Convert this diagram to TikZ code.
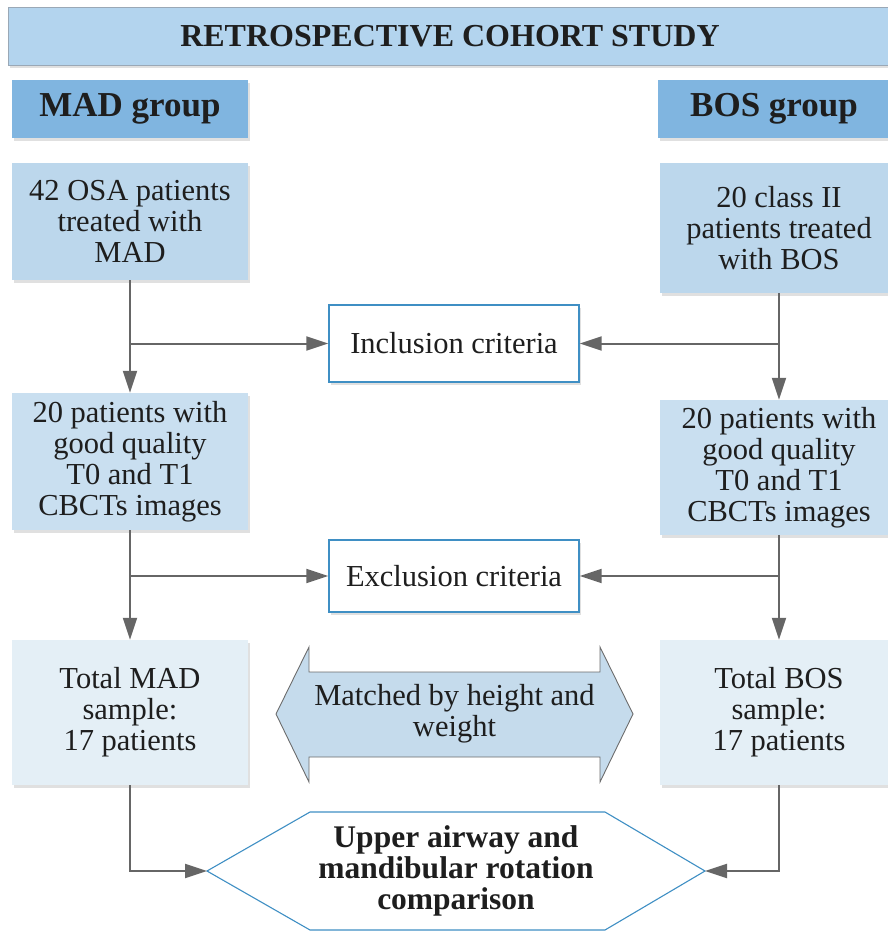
\documentclass[tikz,border=0pt]{standalone}
\usepackage{fontspec}
\setmainfont{Liberation Serif}
\usetikzlibrary{arrows.meta,shadows}
\definecolor{titlebl}{HTML}{B3D4EE}
\definecolor{groupbl}{HTML}{80B5E0}
\definecolor{boxonebl}{HTML}{BCD7EC}
\definecolor{boxtwobl}{HTML}{C9DFF0}
\definecolor{boxthreebl}{HTML}{E4EFF6}
\definecolor{matchbl}{HTML}{C5DBEC}
\definecolor{edgebl}{HTML}{3F8FC4}
\definecolor{arrgray}{HTML}{666666}
\definecolor{titleedge}{HTML}{9AA8B6}
\definecolor{inktext}{HTML}{1E1E1E}
\begin{document}
\begin{tikzpicture}[x=1pt,y=-1pt,
  softshadow/.style={drop shadow={opacity=0.12,shadow xshift=1.5pt,shadow yshift=-3pt,fill=black}},
  panel/.style={rectangle, inner sep=0pt, align=center, text=inktext,
    font=\fontsize{30.5}{31}\selectfont},
  titlebox/.style={panel, fill=titlebl, draw=titleedge, line width=0.8pt, softshadow,
    font=\fontsize{32}{33}\selectfont\bfseries},
  groupbox/.style={panel, fill=groupbl, softshadow, font=\fontsize{35}{37}\selectfont\bfseries},
  boxone/.style={panel, fill=boxonebl, softshadow},
  boxtwo/.style={panel, fill=boxtwobl, softshadow},
  boxthree/.style={panel, fill=boxthreebl, softshadow},
  critbox/.style={panel, fill=white, draw=edgebl, line width=1.3pt, softshadow,
    minimum width=250pt},
  arr/.style={draw=arrgray, line width=2pt, -{Triangle[length=22pt,width=14pt]}},
  matchshape/.style={fill=matchbl, draw=gray!85!black, line width=0.9pt},
  hexshape/.style={fill=white, draw=edgebl, line width=1.1pt},
]
\useasboundingbox (0,0) rectangle (888,932);
\clip (0,0) rectangle (888,932);

% header
\node[titlebox, minimum width=884pt, minimum height=58pt] (title) at (450,36) {RETROSPECTIVE COHORT STUDY};
\node[groupbox, minimum width=236pt, minimum height=58pt] (madg) at (130,109) {MAD group};
\node[groupbox, minimum width=232pt, minimum height=58pt] (bosg) at (774,109) {BOS group};

% left column
\node[boxone, minimum width=236pt, minimum height=117pt] (mad1) at (130,221.5) {42 OSA patients\\treated with\\MAD};
\node[boxtwo, minimum width=236pt, minimum height=137pt] (mad2) at (130,461.5) {20 patients with\\good quality\\T0 and T1\\CBCTs images};
\node[boxthree, minimum width=236pt, minimum height=145pt] (mad3) at (130,712.5) {Total MAD\\sample:\\17 patients};

% right column
\node[boxone, minimum width=238pt, minimum height=130pt] (bos1) at (779,228) {20 class II\\patients treated\\with BOS};
\node[boxtwo, minimum width=238pt, minimum height=135pt] (bos2) at (779,467.5) {20 patients with\\good quality\\T0 and T1\\CBCTs images};
\node[boxthree, minimum width=238pt, minimum height=145pt] (bos3) at (779,712.5) {Total BOS\\sample:\\17 patients};

% criteria
\node[critbox, minimum height=77pt] (incl) at (454,343.5) {Inclusion criteria};
\node[critbox, minimum height=72pt] (excl) at (454,576) {Exclusion criteria};

% matched double arrow
\draw[matchshape] (276,714) -- (309,647) -- (309,672) -- (600,672) -- (600,647) -- (633,714)
  -- (600,782) -- (600,757) -- (309,757) -- (309,782) -- cycle;
\node[panel] (match) at (454.5,714) {Matched by height and\\weight};

% comparison hexagon
\draw[hexshape] (207,871) -- (310,812) -- (605,812) -- (705,871) -- (605,930) -- (310,930) -- cycle;
\coordinate (hexL) at (207,871);
\coordinate (hexR) at (705,871);
\node[panel, font=\fontsize{31.5}{31}\selectfont\bfseries] (cmp) at (456,871) {Upper airway and\\mandibular rotation\\comparison};

% connectors
\draw[arr] (mad1.south) -- (mad2.north);
\draw[arr] (mad1.south |- incl.west) -- (incl.west);
\draw[arr] (bos1.south) -- (bos2.north);
\draw[arr] (bos1.south |- incl.east) -- (incl.east);
\draw[arr] (mad2.south) -- (mad3.north);
\draw[arr] (mad2.south |- excl.west) -- (excl.west);
\draw[arr] (bos2.south) -- (bos3.north);
\draw[arr] (bos2.south |- excl.east) -- (excl.east);
\draw[arr] (mad3.south) |- (hexL);
\draw[arr] (bos3.south) |- (hexR);
\end{tikzpicture}
\end{document}
